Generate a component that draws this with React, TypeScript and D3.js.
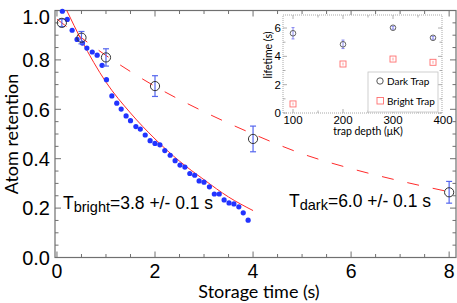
import React from "react";
import * as d3 from "d3";

const W = 457;
const H = 303;

// dark trap retention (circles with error bars)
const darkTimes = [0.1, 0.5, 1, 2, 4, 8];
const darkValues = [0.95, 0.89, 0.81, 0.694, 0.48, 0.264];
const darkErrors = [0.015, 0.025, 0.035, 0.042, 0.052, 0.044];

// bright trap retention (blue dots)
const brightTimes = [
  0.11, 0.21, 0.31, 0.41, 0.52, 0.61, 0.72, 0.82, 0.92, 1.01,
  1.12, 1.22, 1.31, 1.41, 1.5, 1.61, 1.7, 1.8, 1.9, 2.0,
  2.1, 2.2, 2.31, 2.41, 2.51, 2.61, 2.71, 2.81, 2.9, 3.0,
  3.11, 3.21, 3.31, 3.41, 3.51, 3.61, 3.71, 3.8, 3.9,
];
const brightValues = [
  0.997, 0.964, 0.92, 0.883, 0.868, 0.848, 0.832, 0.819, 0.778, 0.72,
  0.654, 0.625, 0.601, 0.573, 0.554, 0.53, 0.52, 0.496, 0.473, 0.462,
  0.456, 0.433, 0.414, 0.392, 0.374, 0.366, 0.34, 0.333, 0.31, 0.305,
  0.286, 0.257, 0.257, 0.233, 0.221, 0.217, 0.205, 0.181, 0.151,
];

// fit curves
const darkFitTimes = [0, 1, 2, 3, 4, 5, 6, 7, 8];
const darkFitValues = [0.965, 0.818, 0.693, 0.59, 0.5, 0.42, 0.36, 0.31, 0.266];
const brightFitTimes = [0.2, 0.5, 1, 1.5, 2, 2.5, 3, 3.5, 4];
const brightFitValues = [1.0, 0.88, 0.71, 0.585, 0.48, 0.39, 0.315, 0.245, 0.19];

// inset: lifetime vs trap depth
const depths = [100, 200, 300, 380];
const darkLifetimes = [5.63, 4.85, 6.02, 5.31];
const darkLifetimeErr = [0.4, 0.3, 0.1, 0.1];
const brightLifetimes = [0.64, 3.46, 3.81, 3.58];
const brightLifetimeErr = [0.1, 0.1, 0.1, 0.1];

const xTicks = [0, 2, 4, 6, 8];
const yTicks = [0, 0.2, 0.4, 0.6, 0.8, 1.0];
const insetXTicks = [100, 200, 300, 400];
const insetYTicks = [0, 2, 4, 6];

const axisColor = "#707070";
const red = "#ff2a2a";
const blue = "#2233ff";
const errBlue = "#5566ee";
const tickFont = "'Liberation Sans', Arial, sans-serif";
const labelFont = "Lato, 'Open Sans', sans-serif";

export default function App() {
  const x = d3.scaleLinear().domain([-0.04, 8.14]).range([55, 456]);
  const y = d3.scaleLinear().domain([0, 1]).range([257.5, 10.5]);

  const ix = d3.scaleLinear().domain([80, 398]).range([283, 442]);
  const iy = d3.scaleLinear().domain([0, 6.92]).range([113, 15]);

  const line = d3
    .line<[number, number]>()
    .x((d) => x(d[0]))
    .y((d) => y(d[1]))
    .curve(d3.curveMonotoneX);

  const darkFit = line(darkFitTimes.map((t, i) => [t, darkFitValues[i]]) as [number, number][]);
  const brightFit = line(brightFitTimes.map((t, i) => [t, brightFitValues[i]]) as [number, number][]);

  const [x0, x1] = x.range();
  const [y0, y1] = y.range();
  const xMinor = d3.range(0, 8.01, 0.5);
  const yMinor = d3.range(0, 1.001, 0.05);

  const [ix0, ix1] = ix.range();
  const [iy0, iy1] = iy.range();
  const ixMinor = d3.range(100, 400, 50);
  const iyMinor = d3.range(0, 7, 1);

  return (
    <svg width={W} height={H} style={{ position: "absolute", left: 0, top: 0 }}>
      <rect width={W} height={H} fill="#fff" />

      {/* main frame */}
      <rect x={x0} y={y1} width={x1 - x0} height={y0 - y1} fill="none" stroke={axisColor} strokeWidth={1.2} />

      {/* x ticks, bottom and top */}
      {xMinor.map((t) => {
        const major = Math.abs(t % 2) < 1e-6;
        const len = major ? 6 : 3.5;
        return (
          <g key={"xm" + t} stroke={axisColor}>
            <line x1={x(t)} x2={x(t)} y1={y0} y2={y0 - len} />
            <line x1={x(t)} x2={x(t)} y1={y1} y2={y1 + len} />
          </g>
        );
      })}
      {yMinor.map((v) => {
        const major = Math.abs(Math.round(v * 100) % 20) < 1e-6;
        const len = major ? 6 : 3.5;
        return (
          <g key={"ym" + v} stroke={axisColor}>
            <line x1={x0} x2={x0 + len} y1={y(v)} y2={y(v)} />
            <line x1={x1} x2={x1 - len} y1={y(v)} y2={y(v)} />
          </g>
        );
      })}

      {/* tick labels */}
      {xTicks.map((t) => (
        <text key={"xl" + t} x={x(t)} y={277.5} textAnchor="middle" fontFamily={tickFont} fontSize={19.5}>
          {t}
        </text>
      ))}
      {yTicks.map((v) => (
        <text
          key={"yl" + v}
          x={50}
          y={Math.max(y(v), 16.7)}
          dy="0.36em"
          textAnchor="end"
          fontFamily={tickFont}
          fontSize={20}
        >
          {v.toFixed(1)}
        </text>
      ))}

      {/* axis titles */}
      <text x={259} y={298} textAnchor="middle" fontFamily={labelFont} fontSize={18}>
        Storage time (s)
      </text>
      <text
        transform={`translate(18,134) rotate(-90)`}
        textAnchor="middle"
        fontFamily={labelFont}
        fontSize={18}
      >
        Atom retention
      </text>

      {/* fits */}
      <path d={darkFit ?? ""} fill="none" stroke={red} strokeWidth={1} strokeDasharray="12,14" />
      <path d={brightFit ?? ""} fill="none" stroke={red} strokeWidth={1} />

      {/* bright dots */}
      {brightTimes.map((t, i) => (
        <circle key={"b" + i} cx={x(t)} cy={y(brightValues[i])} r={2.6} fill={blue} />
      ))}

      {/* dark points */}
      {darkTimes.map((t, i) => {
        const cx = x(t);
        const top = y(darkValues[i] + darkErrors[i]);
        const bot = y(darkValues[i] - darkErrors[i]);
        return (
          <g key={"d" + i}>
            <g stroke={errBlue} strokeWidth={1.2}>
              <line x1={cx} x2={cx} y1={top} y2={bot} />
              <line x1={cx - 3} x2={cx + 3} y1={top} y2={top} />
              <line x1={cx - 3} x2={cx + 3} y1={bot} y2={bot} />
            </g>
            <circle cx={cx} cy={y(darkValues[i])} r={4.6} fill="none" stroke="#333" strokeWidth={1} />
          </g>
        );
      })}

      {/* annotations */}
      <text x={63} y={209} fontFamily={tickFont} fontSize={17.5}>
        T
        <tspan fontSize={14.5} dy={2.5}>bright</tspan>
        <tspan dy={-2.5}>=3.8 +/- 0.1 s</tspan>
      </text>
      <text x={289} y={207} fontFamily={tickFont} fontSize={17.5}>
        T
        <tspan fontSize={14.5} dy={2.5}>dark</tspan>
        <tspan dy={-2.5}>=6.0 +/- 0.1 s</tspan>
      </text>

      {/* inset */}
      <rect x={ix0} y={iy1} width={ix1 - ix0} height={iy0 - iy1} fill="#fff" stroke="#a8a8a8" strokeWidth={1} strokeDasharray="1,1" />
      {ixMinor.map((d) => {
        const len = d % 100 === 0 ? 4 : 2.5;
        return (
          <g key={"ixm" + d} stroke="#999" strokeWidth={0.8}>
            <line x1={ix(d)} x2={ix(d)} y1={iy0} y2={iy0 - len} />
            <line x1={ix(d)} x2={ix(d)} y1={iy1} y2={iy1 + len} />
          </g>
        );
      })}
      {iyMinor.map((v) => {
        const len = v % 2 === 0 ? 4 : 2.5;
        return (
          <g key={"iym" + v} stroke="#999" strokeWidth={0.8}>
            <line x1={ix0} x2={ix0 + len} y1={iy(v)} y2={iy(v)} />
            <line x1={ix1} x2={ix1 - len} y1={iy(v)} y2={iy(v)} />
          </g>
        );
      })}
      {insetXTicks.map((d) => (
        <text key={"ixl" + d} x={ix(d)} y={124} textAnchor="middle" fontFamily={tickFont} fontSize={11.5}>
          {d}
        </text>
      ))}
      {insetYTicks.map((v) => (
        <text key={"iyl" + v} x={281} y={iy(v)} dy="0.36em" textAnchor="end" fontFamily={tickFont} fontSize={11.5}>
          {v}
        </text>
      ))}
      <text x={368} y={134.5} textAnchor="middle" fontFamily={labelFont} fontSize={10.5}>
        trap depth (μK)
      </text>
      <text transform={`translate(272,55) rotate(-90)`} textAnchor="middle" fontFamily={labelFont} fontSize={10.5}>
        lifetime (s)
      </text>

      {depths.map((d, i) => {
        const cx = ix(d);
        const t = iy(darkLifetimes[i] + darkLifetimeErr[i]);
        const b = iy(darkLifetimes[i] - darkLifetimeErr[i]);
        const bt = iy(brightLifetimes[i] + brightLifetimeErr[i]);
        const bb = iy(brightLifetimes[i] - brightLifetimeErr[i]);
        const by = iy(brightLifetimes[i]);
        return (
          <g key={"in" + i}>
            <g stroke="#7a7aee" strokeWidth={0.9}>
              <line x1={cx} x2={cx} y1={t} y2={b} />
              <line x1={cx - 1.5} x2={cx + 1.5} y1={t} y2={t} />
              <line x1={cx - 1.5} x2={cx + 1.5} y1={b} y2={b} />
            </g>
            <circle cx={cx} cy={iy(darkLifetimes[i])} r={2.8} fill="none" stroke="#555" strokeWidth={0.9} />
            <line x1={cx} x2={cx} y1={bt} y2={bb} stroke="#ff8080" strokeWidth={0.8} />
            <rect x={cx - 3} y={by - 3} width={6} height={6} fill="none" stroke="#ff6f6f" strokeWidth={0.9} />
          </g>
        );
      })}

      {/* legend */}
      <rect x={368} y={72} width={70} height={40} fill="#fff" stroke="#c4c4c4" strokeWidth={0.8} />
      <circle cx={380} cy={81} r={3.2} fill="none" stroke="#444" strokeWidth={0.9} />
      <text x={387} y={84.5} fontFamily={labelFont} fontSize={10}>
        Dark Trap
      </text>
      <rect x={377} y={97.5} width={6.5} height={6.5} fill="none" stroke="#ff6f6f" strokeWidth={0.9} />
      <text x={387} y={104.5} fontFamily={labelFont} fontSize={10}>
        Bright Trap
      </text>
    </svg>
  );
}
